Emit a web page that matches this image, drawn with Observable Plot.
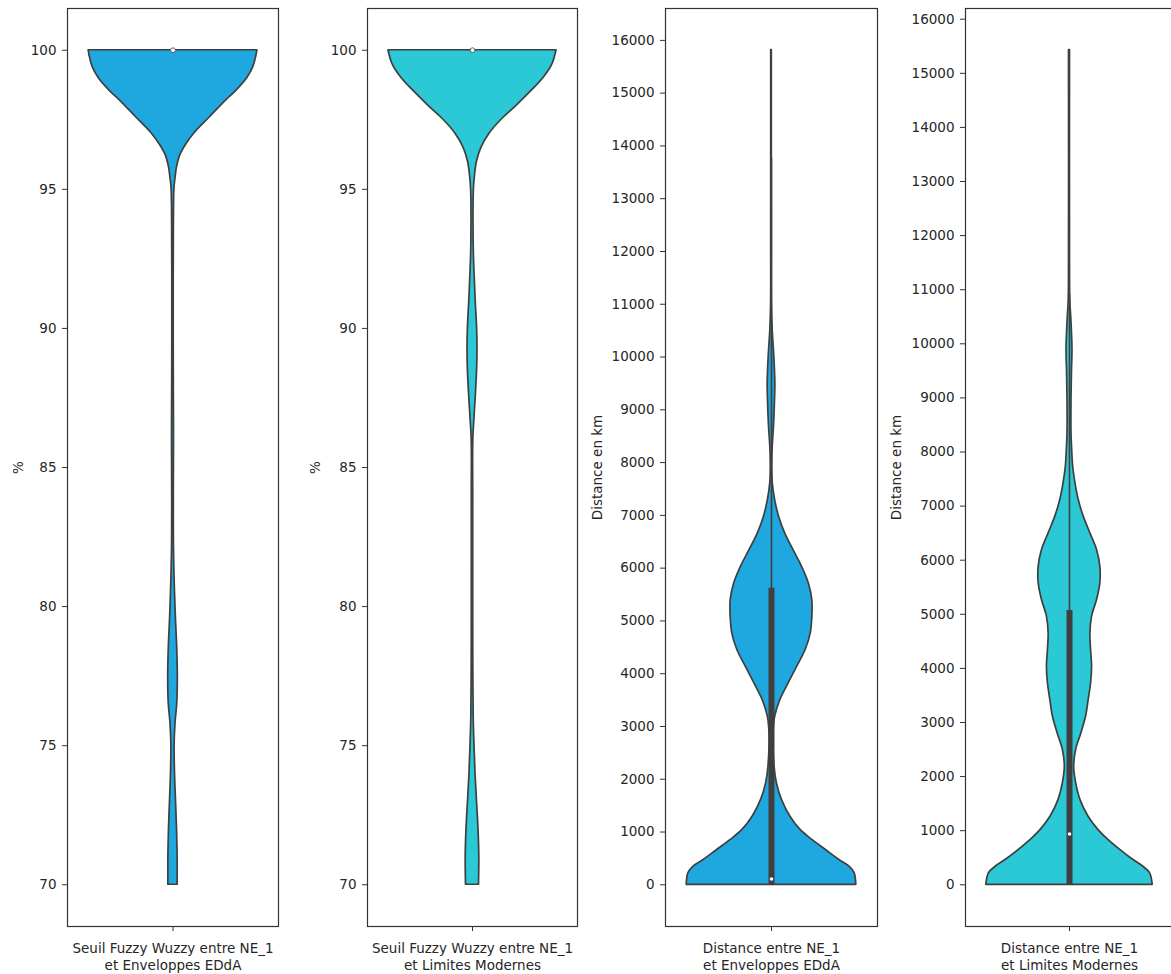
<!DOCTYPE html>
<html><head><meta charset="utf-8">
<script src="https://cdn.jsdelivr.net/npm/d3@7"></script>
<script src="https://cdn.jsdelivr.net/npm/@observablehq/plot@0.6"></script>
<style>
html,body{margin:0;padding:0;background:#fff;}
#wrap{position:relative;width:1171px;height:974px;overflow:hidden;background:#fff;}
#wrap svg{position:absolute;top:0;}
</style></head><body><div id="wrap"></div>
<script>
// ---- categories / labels ----
const categories = [
  "Seuil Fuzzy Wuzzy entre NE_1\net Enveloppes EDdA",
  "Seuil Fuzzy Wuzzy entre NE_1\net Limites Modernes",
  "Distance entre NE_1\net Enveloppes EDdA",
  "Distance entre NE_1\net Limites Modernes"
];
const yLabels = ["%", "%", "Distance en km", "Distance en km"];
const pctTicks = [70, 75, 80, 85, 90, 95, 100];
const kmTicks = [0,1000,2000,3000,4000,5000,6000,7000,8000,9000,10000,11000,12000,13000,14000,15000,16000];

// ---- violin density profiles (value, relative half-width) ----
const p1Values = [70, 71, 72, 73, 74, 75, 75.8, 76.5, 77.5, 78.5, 79.5, 80.5, 82, 84, 86, 88, 90, 93, 95, 95.4, 95.8, 96.2, 96.6, 97.0, 97.6, 98.2, 98.5, 99, 99.4, 99.8, 100];
const p1Density = [4.6, 4.6, 4, 3, 2, 1.6, 2.5, 4.2, 4.8, 4.2, 3, 2, 1.0, 0.8, 1.0, 0.8, 0.7, 0.8, 1.4, 2.5, 4, 7, 13, 21, 37, 53, 62, 74, 80, 83, 84];

const p2Values = [70, 71, 72, 73, 74, 75, 76, 78, 80, 84, 86, 86.8, 87.5, 88.5, 89.3, 90, 91, 92, 93, 95, 95.5, 96, 96.5, 97, 97.5, 98, 98.5, 99, 99.5, 100];
const p2Density = [6.5, 6.8, 6, 4.5, 3, 2, 1.2, 0.8, 0.7, 0.7, 0.8, 2, 3.2, 4.6, 5, 4.6, 3.2, 2, 1.2, 1.4, 2.5, 4.5, 9, 17, 29, 44, 58, 71, 80, 84];

const p3Values = [0, 220, 345, 470, 660, 850, 1040, 1290, 1610, 1925, 2240, 2870, 3190, 3500, 3820, 4130, 4450, 4760, 5080, 5390, 5700, 6020, 6330, 6650, 6960, 7280, 7600, 7910, 8300, 8700, 9200, 9500, 10000, 10500, 11000, 12000, 14000, 15814];
const p3Density = [83.7, 82, 77, 67, 53.7, 40.3, 28.7, 18.7, 10.3, 5.3, 3, 2, 3.7, 8.7, 17, 25.3, 33.7, 38.7, 40.3, 40.3, 37, 30.3, 22, 13.7, 7.7, 3.7, 1.3, 0.7, 1.2, 2.5, 3.5, 3.8, 2.8, 1.2, 0.4, 0.3, 0.3, 0.3];

const p4Values = [0, 215, 338, 462, 646, 831, 1016, 1262, 1570, 1878, 2186, 2494, 2802, 3110, 3418, 3726, 4033, 4341, 4649, 4957, 5265, 5573, 5881, 6189, 6497, 6805, 7112, 7420, 7728, 8036, 8344, 8960, 9500, 9900, 10400, 10800, 11500, 15427];
const p4Density = [83.7, 81, 74, 64, 51, 39, 29, 19, 11, 6.7, 4.7, 6.7, 12, 16.7, 19.3, 21.7, 22.7, 21.7, 21, 22.7, 27.7, 31, 31, 27.7, 21, 14.3, 9.3, 6, 3.7, 2.7, 2, 2, 2.5, 3, 2, 0.8, 0.5, 0.5];

// ---- summary statistics ----
const medians = [100, 100, 110, 940];
const boxes = [null, null, [0, 5620], [0, 5070]];
const whiskers = [null, null, [0, 13760], [0, 10900]];
const yDomains = [[68.5, 101.5], [68.5, 101.5], [-790, 16604], [-771, 16198]];
const colors = ["#1fa8e0", "#2bc8d6", "#1fa8e0", "#2bc8d6"];

const layout = [
  {left: 0, marginLeft: 67, frameWidth: 211, labelOffset: 54},
  {left: 287, marginLeft: 80, frameWidth: 210, labelOffset: 57},
  {left: 585, marginLeft: 80, frameWidth: 212, labelOffset: 73},
  {left: 885, marginLeft: 80, frameWidth: 208, labelOffset: 74}
];

const profiles = [[p1Values, p1Density], [p2Values, p2Density], [p3Values, p3Density], [p4Values, p4Density]];
const tickSets = [pctTicks, pctTicks, kmTicks, kmTicks];
const dark = "#3f3f3f";
const wrap = document.getElementById("wrap");

categories.forEach((cat, i) => {
  const [vals, dens] = profiles[i];
  const maxD = d3.max(dens);
  const data = vals.map((v, j) => ({v, d: dens[j] / maxD}));
  const L = layout[i];
  const marks = [
    Plot.areaX(data, {y: "v", x1: d => -0.4 * d.d, x2: d => 0.4 * d.d, fill: colors[i], stroke: dark, strokeWidth: 1.7, curve: "catmull-rom"})
  ];
  if (whiskers[i]) marks.push(Plot.ruleX([0], {x: d => d, y1: () => whiskers[i][0], y2: () => whiskers[i][1], stroke: dark, strokeWidth: 1.6}));
  if (boxes[i]) marks.push(Plot.ruleX([0], {x: d => d, y1: () => boxes[i][0], y2: () => boxes[i][1], stroke: dark, strokeWidth: 6}));
  marks.push(Plot.dot([medians[i]], {x: () => 0, y: d => d, r: boxes[i] ? 1.8 : 2.4, fill: "white", stroke: boxes[i] ? "none" : "#555", strokeWidth: 0.9}));
  marks.push(Plot.frame({stroke: "#333", strokeWidth: 1.2}));
  marks.push(Plot.axisY(tickSets[i], {anchor: "left", tickSize: 5, tickPadding: 6, stroke: "#333", tickFormat: d => String(d), label: yLabels[i], labelAnchor: "center", labelOffset: L.labelOffset, labelArrow: "none"}));
  marks.push(Plot.axisX([0], {anchor: "bottom", tickSize: 5, tickPadding: 10, stroke: "#333", tickFormat: () => cat, lineHeight: 1.25, label: null}));
  const svg = Plot.plot({
    width: L.marginLeft + L.frameWidth + 2,
    height: 974,
    marginLeft: L.marginLeft,
    marginRight: 2,
    marginTop: 8,
    marginBottom: 48,
    x: {domain: [-0.5, 0.5]},
    y: {domain: yDomains[i]},
    style: {fontFamily: "DejaVu Sans", fontSize: "13.5px", color: "#262626", background: "transparent"},
    marks
  });
  svg.style.left = L.left + "px";
  wrap.appendChild(svg);
});
</script>
</body></html>
